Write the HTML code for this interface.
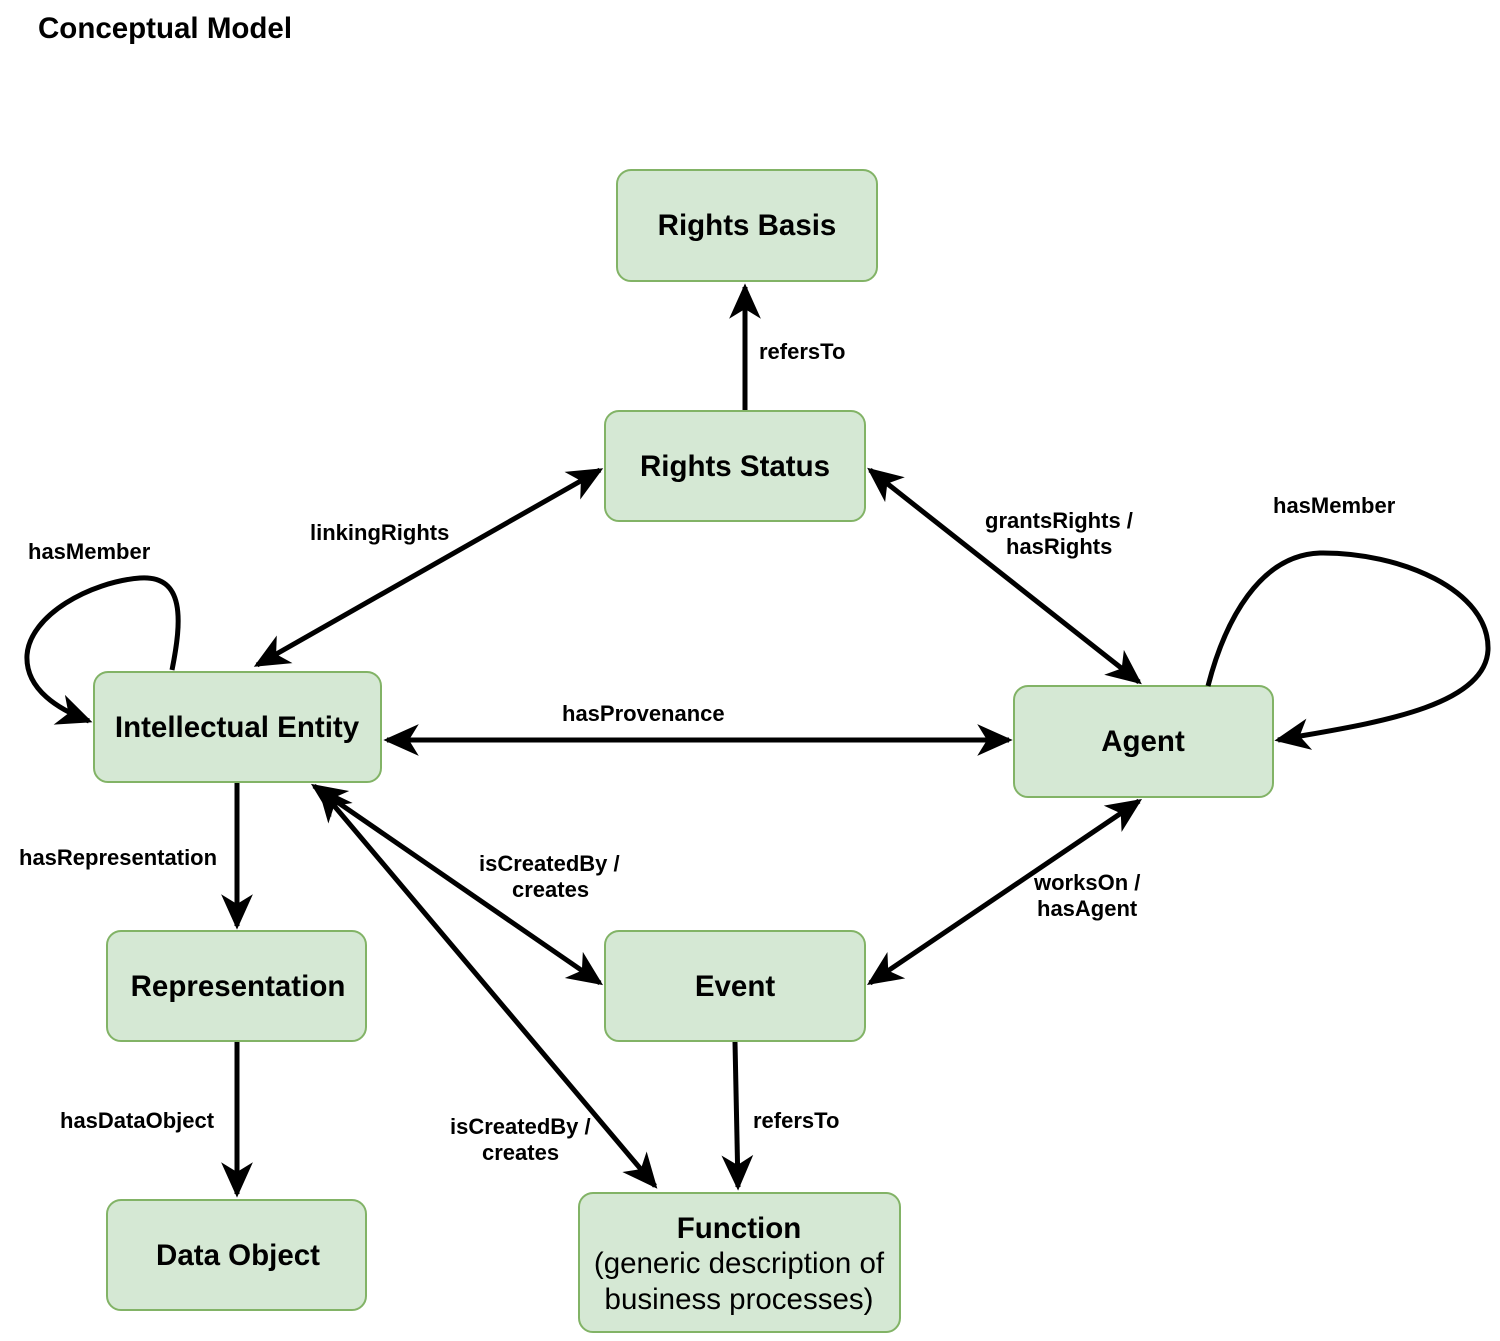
<!DOCTYPE html>
<html><head><meta charset="utf-8"><style>
html,body{margin:0;padding:0;background:#fff;}
svg{display:block;}
text{font-family:"Liberation Sans",Arial,sans-serif;fill:#000;}
.l{font-size:22px;font-weight:bold;}
.b{font-size:29.5px;font-weight:bold;}
</style></head><body>
<svg width="1500" height="1341" viewBox="0 0 1500 1341" xmlns="http://www.w3.org/2000/svg">
<defs>
<marker id="a" markerUnits="userSpaceOnUse" markerWidth="44" markerHeight="40" viewBox="-30 -15 36 30" refX="0" refY="0" orient="auto-start-reverse">
<path d="M3,0 L-26,-13 L-18,0 L-26,13 Z" fill="#000"/>
</marker>
</defs>
<text x="38" y="38" style="font-size:29.5px;font-weight:bold">Conceptual Model</text>
<g fill="#d5e8d4" stroke="#82b366" stroke-width="2">
<rect x="617" y="170" width="260" height="111" rx="14"/>
<rect x="605" y="411" width="260" height="110" rx="14"/>
<rect x="94" y="672" width="287" height="110" rx="14"/>
<rect x="1014" y="686" width="259" height="111" rx="14"/>
<rect x="107" y="931" width="259" height="110" rx="14"/>
<rect x="605" y="931" width="260" height="110" rx="14"/>
<rect x="107" y="1200" width="259" height="110" rx="14"/>
<rect x="579" y="1193" width="321" height="139" rx="14"/>
</g>
<g stroke="#000" stroke-width="5" fill="none">
<line x1="745" y1="410" x2="745" y2="287" marker-end="url(#a)"/>
<line x1="600" y1="470" x2="257" y2="665" marker-start="url(#a)" marker-end="url(#a)"/>
<line x1="870" y1="470" x2="1139" y2="682" marker-start="url(#a)" marker-end="url(#a)"/>
<line x1="387" y1="740" x2="1009" y2="740" marker-start="url(#a)" marker-end="url(#a)"/>
<line x1="237" y1="783" x2="237" y2="926" marker-end="url(#a)"/>
<line x1="237" y1="1042" x2="237" y2="1194" marker-end="url(#a)"/>
<line x1="314" y1="786" x2="600" y2="983" marker-start="url(#a)" marker-end="url(#a)"/>
<line x1="320" y1="789" x2="655" y2="1186" marker-start="url(#a)" marker-end="url(#a)"/>
<line x1="1139" y1="801" x2="870" y2="983" marker-start="url(#a)" marker-end="url(#a)"/>
<line x1="735" y1="1042" x2="738" y2="1187" marker-end="url(#a)"/>
<path d="M172,670 C182,620 185,575 140,578 C90,582 30,615 27,655 C25,690 60,710 89,721" marker-end="url(#a)"/>
<path d="M1208,686 C1225,620 1260,555 1320,553 C1400,552 1490,590 1488,650 C1485,710 1360,725 1278,740" marker-end="url(#a)"/>
</g>
<g class="b" text-anchor="middle">
<text x="747" y="235">Rights Basis</text>
<text x="735" y="476">Rights Status</text>
<text x="237" y="737">Intellectual Entity</text>
<text x="1143" y="751">Agent</text>
<text x="238" y="996">Representation</text>
<text x="735" y="996">Event</text>
<text x="238" y="1265">Data Object</text>
<text x="739" y="1238">Function</text>
<text x="739" y="1273" style="font-weight:normal">(generic description of</text>
<text x="739" y="1309" style="font-weight:normal">business processes)</text>
</g>
<g class="l">
<text x="759" y="359">refersTo</text>
<text x="310" y="540">linkingRights</text>
<text x="985" y="528">grantsRights /</text>
<text x="1006" y="554">hasRights</text>
<text x="1273" y="513">hasMember</text>
<text x="28" y="559">hasMember</text>
<text x="562" y="721">hasProvenance</text>
<text x="19" y="865">hasRepresentation</text>
<text x="479" y="871">isCreatedBy /</text>
<text x="512" y="897">creates</text>
<text x="1034" y="890">worksOn /</text>
<text x="1037" y="916">hasAgent</text>
<text x="60" y="1128">hasDataObject</text>
<text x="450" y="1134">isCreatedBy /</text>
<text x="482" y="1160">creates</text>
<text x="753" y="1128">refersTo</text>
</g>
</svg>
</body></html>
